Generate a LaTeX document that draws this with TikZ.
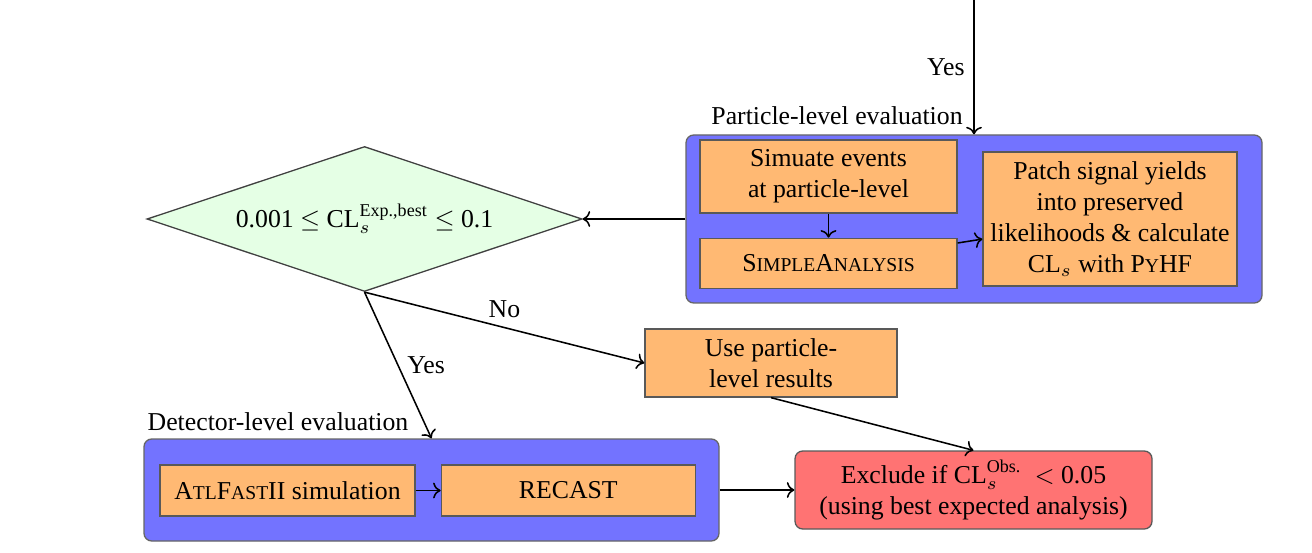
\documentclass[tikz,border=0pt]{standalone}
\usepackage{amsmath}
\usepackage{fontspec}
\setmainfont{Liberation Serif}
\setmathrm{Liberation Serif}
\usepackage{xcolor}
\usepackage{tikz}
\usetikzlibrary{shapes.geometric, arrows.meta, positioning, backgrounds}
\newdimen\px \px=0.388pt
\newcommand{\fsc}[1]{{\fontsize{7.6}{9}\selectfont #1}}
\tikzset{
  evalbox/.style={
    rectangle, rounded corners=3pt, draw=black!60, fill=blue!55,
    line width=0.5pt
  },
  stepbox/.style={
    rectangle, draw=black!65, fill=orange!55, align=center,
    inner sep=2pt, line width=0.5pt
  },
  decision/.style={
    diamond, draw=black!75, fill=green!10, aspect=3,
    inner sep=0pt, line width=0.5pt
  },
  resultbox/.style={
    rectangle, rounded corners=3pt, draw=black!65, fill=red!55,
    align=center, inner sep=2pt, line width=0.5pt
  },
  arrow/.style={->, semithick},
}

\begin{document}
\begin{tikzpicture}[x=\px, y=-\px]
    \useasboundingbox (0,0) rectangle (1312,553);
    % evaluation containers
    \node[evalbox, minimum width=576\px, minimum height=168\px] (plbox) at (974,219) {};
    \node[evalbox, minimum width=575\px, minimum height=102\px] (dlbox) at (431.5,490) {};
    \node (pllabel) at (837,116) {Particle-level evaluation};
    \node (dllabel) at (278,422) {Detector-level evaluation};

    \node[stepbox, minimum width=257\px, minimum height=73\px] (sim) at (828.5,176.5) {Simuate events\\at particle-level};
    \node[stepbox, minimum width=257\px, minimum height=50\px, below=24\px of sim] (simple) {S\fsc{IMPLE}A\fsc{NALYSIS}};
    \node[stepbox, minimum width=254\px, minimum height=134\px] (patch) at (1110,219) {Patch signal yields\\into preserved\\likelihoods \& calculate\\$\mathrm{CL}_s$ with P\fsc{Y}HF};
    \node[decision, minimum width=435\px, minimum height=145\px] (dia) at (364.5,219) {0.001 $\leq$ $\mathrm{CL}_s^{\text{Exp.,best}}$ $\leq$ 0.1};
    \node[stepbox, minimum width=252\px, minimum height=68\px] (use) at (771,363) {Use particle-\\level results};
    \node[stepbox, minimum width=255\px, minimum height=51\px] (atl) at (287.5,490.5) {A\fsc{TL}F\fsc{AST}II simulation};
    \node[stepbox, minimum width=254\px, minimum height=51\px, right=25\px of atl] (recast) {RECAST};
    \node[resultbox, minimum width=357\px, minimum height=78\px] (excl) at (973.5,490) {Exclude if $\mathrm{CL}_s^{\text{Obs.}}$\ \ $<$\ 0.05\\(using best expected analysis)};
    \coordinate (top) at (974,0);

    \draw[arrow] (top) -- node[left] {Yes} (plbox.north);
    \draw[arrow] (sim) -- (simple);
    \draw[arrow] (simple) -- (patch);
    \draw[arrow] (plbox.west) -- (dia.east);
    \draw[arrow] (dia.south) -- node[above] {No} (use.west);
    \draw[arrow] (dia.south) -- node[right] {Yes} (dlbox.north);
    \draw[arrow] (use.south) -- (excl.north);
    \draw[arrow] (atl) -- (recast);
    \draw[arrow] (dlbox.east) -- (excl.west);
\end{tikzpicture}
\end{document}
